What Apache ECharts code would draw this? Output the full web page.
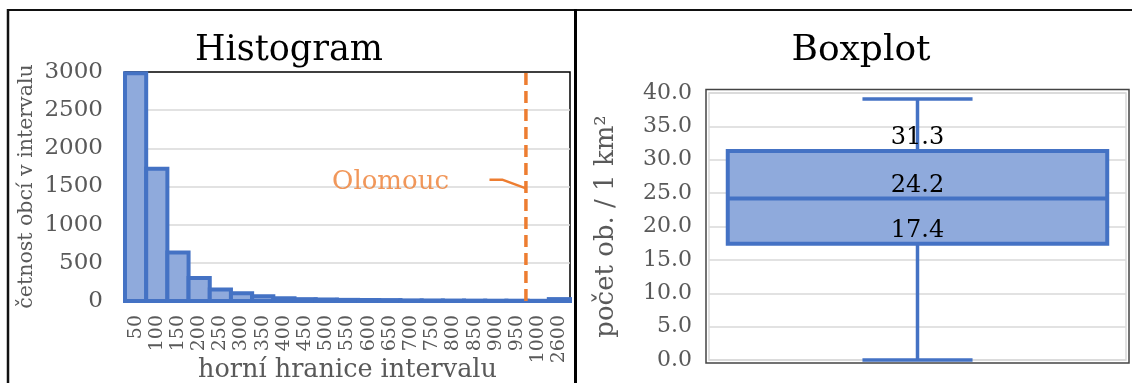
<!DOCTYPE html>
<html>
<head>
<meta charset="utf-8">
<script src="https://cdn.jsdelivr.net/npm/echarts@6/dist/echarts.min.js"></script>
<style>
html,body{margin:0;padding:0;background:#fff;}
#c{width:1132px;height:383px;}
</style>
</head>
<body>
<div id="c"></div>
<script>
// ---- data ----
const histCategories = ['50','100','150','200','250','300','350','400','450','500','550','600','650','700','750','800','850','900','950','1000','2600'];
const histCounts = [2985, 1732, 636, 300, 152, 100, 61, 36, 24, 20, 15, 13, 12, 8, 7, 6, 5, 4, 4, 3, 25];
const histYTicks = {min: 0, max: 3000, interval: 500};
const olomoucLabel = 'Olomouc';
const olomoucPos = 18.92;          // position on the category scale (bin index units)
const olomoucLeader = [[17.2, 1590], [17.8, 1590], [18.92, 1475]];

const boxStats = [0.0, 17.4, 24.2, 31.3, 39.1];   // min, Q1, median, Q3, max
const boxYTicks = {min: 0, max: 40, interval: 5};

// ---- styles ----
const SERIF = 'DejaVu Serif';
const GRAY = '#595959';
const FILL = '#8FAADC';
const EDGE = '#4472C4';
const ORANGE = '#ED7D31';

const chart = echarts.init(document.getElementById('c'), null, {renderer: 'canvas'});

const option = {
  backgroundColor: '#fff',
  animation: false,
  title: [
    {text: 'Histogram', left: 284, top: 28, textAlign: 'center',
     textStyle: {fontFamily: SERIF, fontSize: 35, fontWeight: 'normal', color: '#000'}},
    {text: 'Boxplot', left: 856, top: 28, textAlign: 'center',
     textStyle: {fontFamily: SERIF, fontSize: 36, fontWeight: 'normal', color: '#000'}}
  ],
  grid: [
    {left: 125, right: 562, top: 72, bottom: 82, outerBoundsMode: 'none', containLabel: false,
     show: true, borderColor: '#000', borderWidth: 1.5, backgroundColor: 'transparent'},
    {left: 709, right: 6, top: 93, bottom: 23, outerBoundsMode: 'none', containLabel: false,
     show: true, borderColor: '#d9d9d9', borderWidth: 1.5, backgroundColor: 'transparent'}
  ],
  xAxis: [
    {type: 'category', gridIndex: 0, data: histCategories,
     name: 'horní hranice intervalu', nameLocation: 'middle', nameGap: 56, nameMoveOverlap: false,
     nameTextStyle: {fontFamily: SERIF, fontSize: 25.5, color: GRAY},
     axisLine: {show: true, lineStyle: {color: '#bfbfbf', width: 1.5}},
     axisTick: {show: false},
     axisLabel: {rotate: 90, interval: 0, margin: 14, fontFamily: SERIF, fontSize: 19, color: GRAY}},
    {type: 'value', gridIndex: 0, min: 0, max: histCategories.length, show: false},
    {type: 'value', gridIndex: 1, min: 0, max: 1, show: false}
  ],
  yAxis: [
    {type: 'value', gridIndex: 0, min: histYTicks.min, max: histYTicks.max, interval: histYTicks.interval,
     name: 'četnost obcí v intervalu', nameLocation: 'middle', nameGap: 88, nameMoveOverlap: false,
     nameTextStyle: {fontFamily: SERIF, fontSize: 20.5, color: GRAY},
     axisLine: {show: false}, axisTick: {show: false},
     axisLabel: {margin: 22, fontFamily: SERIF, fontSize: 23, color: GRAY, formatter: v => String(v)},
     splitLine: {showMaxLine: false, lineStyle: {color: '#d9d9d9', width: 1.5}}},
    {type: 'value', gridIndex: 1, min: boxYTicks.min, max: boxYTicks.max, interval: boxYTicks.interval,
     name: 'počet ob. / 1 km²', nameLocation: 'middle', nameGap: 90, nameMoveOverlap: false,
     nameTextStyle: {fontFamily: SERIF, fontSize: 26, color: GRAY},
     axisLine: {show: false}, axisTick: {show: false},
     axisLabel: {margin: 17, fontFamily: SERIF, fontSize: 22, color: GRAY,
                 formatter: v => v.toFixed(1)},
     splitLine: {lineStyle: {color: '#d9d9d9', width: 1.5}}}
  ],
  series: [
    {type: 'custom', xAxisIndex: 0, yAxisIndex: 0, z: 3,
     data: histCounts.map((v, i) => [i, v]),
     encode: {x: 0, y: 1},
     renderItem: function (params, api) {
       const i = api.value(0), v = api.value(1);
       const band = api.size([1, 0])[0];
       const top = api.coord([i, v]);
       const base = api.coord([i, 0]);
       return {type: 'rect',
               shape: {x: top[0] - band / 2, y: top[1], width: band, height: base[1] - top[1]},
               style: {fill: FILL, stroke: EDGE, lineWidth: 4}};
     }},
    {type: 'line', xAxisIndex: 1, yAxisIndex: 0, symbol: 'none', z: 5,
     data: [[olomoucPos, histYTicks.min], [olomoucPos, histYTicks.max]],
     lineStyle: {color: ORANGE, width: 3.5, type: [12, 6]}},
    {type: 'line', xAxisIndex: 1, yAxisIndex: 0, symbol: 'none', z: 5,
     data: olomoucLeader,
     lineStyle: {color: ORANGE, width: 2.5}},
    {type: 'scatter', xAxisIndex: 1, yAxisIndex: 0, symbolSize: 1, z: 5,
     itemStyle: {color: 'rgba(0,0,0,0)'},
     data: [olomoucLeader[0]],
     label: {show: true, position: 'left', distance: 40, offset: [0, 3], formatter: olomoucLabel,
             fontFamily: SERIF, fontSize: 26, color: ORANGE}},
    {type: 'custom', xAxisIndex: 2, yAxisIndex: 1, z: 5,
     data: [[0.5].concat(boxStats)],
     encode: {x: 0, y: [1, 2, 3, 4, 5]},
     renderItem: function (params, api) {
       const c = api.value(0);
       const mn = api.value(1), q1 = api.value(2), md = api.value(3), q3 = api.value(4), mx = api.value(5);
       const BOXH = 0.455, CAPH = 0.132;
       const xc = api.coord([c, 0])[0];
       const xl = api.coord([c - BOXH, 0])[0], xr = api.coord([c + BOXH, 0])[0];
       const cl = api.coord([c - CAPH, 0])[0], cr = api.coord([c + CAPH, 0])[0];
       const y = v => api.coord([c, v])[1];
       const wStyle = {stroke: EDGE, lineWidth: 3.5, fill: null};
       const txt = (v) => ({type: 'text', style: {text: v.toFixed(1), x: xc, y: y(v) - 13,
                  align: 'center', verticalAlign: 'middle', fill: '#000',
                  font: '24px "' + SERIF + '"'}});
       return {type: 'group', children: [
         {type: 'line', shape: {x1: xc, y1: y(q3), x2: xc, y2: y(mx)}, style: wStyle},
         {type: 'line', shape: {x1: xc, y1: y(q1), x2: xc, y2: y(mn)}, style: wStyle},
         {type: 'line', shape: {x1: cl, y1: y(mx), x2: cr, y2: y(mx)}, style: wStyle},
         {type: 'line', shape: {x1: cl, y1: y(mn), x2: cr, y2: y(mn)}, style: wStyle},
         {type: 'rect', shape: {x: xl, y: y(q3), width: xr - xl, height: y(q1) - y(q3)},
          style: {fill: FILL, stroke: EDGE, lineWidth: 4}},
         {type: 'line', shape: {x1: xl, y1: y(md), x2: xr, y2: y(md)}, style: {stroke: EDGE, lineWidth: 4}},
         txt(q3), txt(md), txt(q1)
       ]};
     }}
  ],
  graphic: [
    {type: 'line', shape: {x1: 7, y1: 10, x2: 1132, y2: 10}, style: {stroke: '#111', lineWidth: 2}, silent: true},
    {type: 'line', shape: {x1: 8, y1: 9, x2: 8, y2: 383}, style: {stroke: '#111', lineWidth: 2.5}, silent: true},
    {type: 'line', shape: {x1: 575.5, y1: 9, x2: 575.5, y2: 383}, style: {stroke: '#000', lineWidth: 3}, silent: true},
    {type: 'rect', shape: {x: 706, y: 89.5, width: 423, height: 273.5}, style: {fill: null, stroke: '#444', lineWidth: 1.5}, silent: true, z: 10}
  ]
};
chart.setOption(option);
</script>
</body>
</html>
